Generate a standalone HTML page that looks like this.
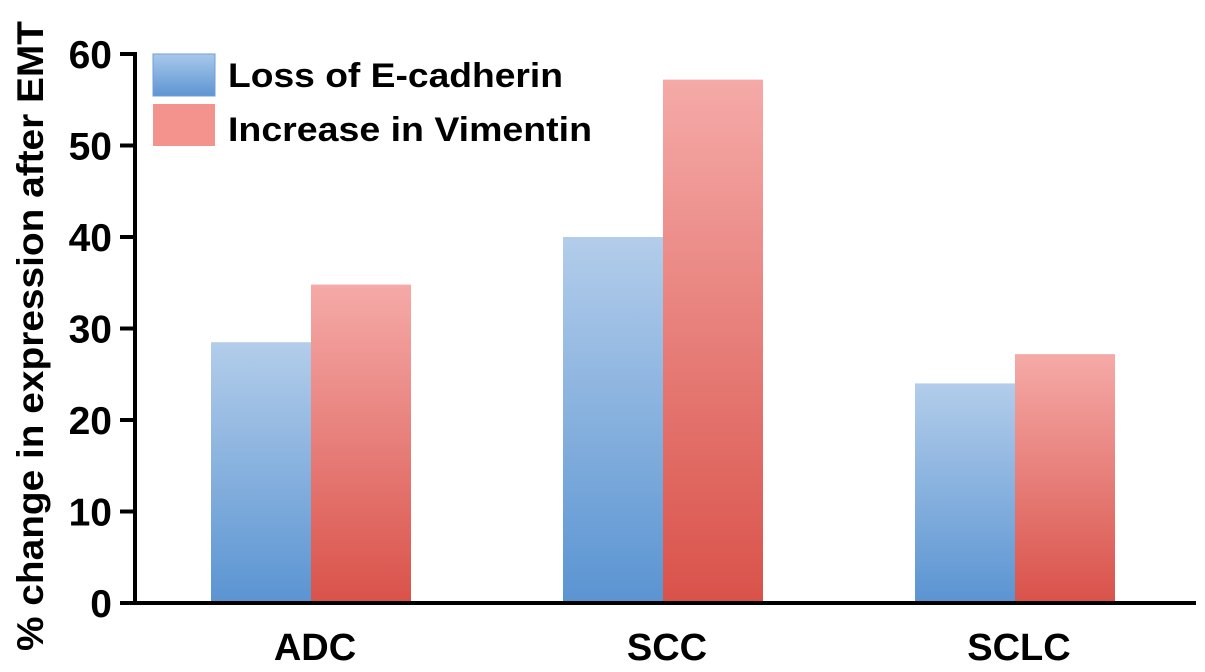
<!DOCTYPE html>
<html><head><meta charset="utf-8"><style>
html,body{margin:0;padding:0;background:#fff;}
svg{display:block;font-family:"Liberation Sans",Arial,sans-serif;font-weight:bold;}
</style></head><body>
<svg id="chart" width="1205" height="672" viewBox="0 0 1205 672">
<defs>
<linearGradient id="gb" x1="0" y1="0" x2="0" y2="1"><stop offset="0" stop-color="#b3cdea"/><stop offset="1" stop-color="#5a94d2"/></linearGradient>
<linearGradient id="gr" x1="0" y1="0" x2="0" y2="1"><stop offset="0" stop-color="#f5aaa8"/><stop offset="1" stop-color="#d9524a"/></linearGradient>
<linearGradient id="lb" x1="0" y1="0" x2="0" y2="1"><stop offset="0" stop-color="#a9c8ea"/><stop offset="1" stop-color="#5d95d3"/></linearGradient>
</defs>
<g id="bars"></g>
<g id="axes"></g>
<g>
<rect x="153" y="54" width="62" height="42" fill="url(#lb)" stroke="#6f9fd6"/>
<text x="228" y="87" font-size="34" textLength="335" lengthAdjust="spacingAndGlyphs" fill="#000">Loss of E-cadherin</text>
<rect x="153" y="104" width="62" height="42" fill="#f4938e"/>
<text x="228" y="141" font-size="34" textLength="364" lengthAdjust="spacingAndGlyphs" fill="#000">Increase in Vimentin</text>
</g>
<text transform="translate(43,336) rotate(-90)" text-anchor="middle" font-size="37" textLength="630" lengthAdjust="spacingAndGlyphs" fill="#000">% change in expression after EMT</text>
</svg>
<script>
const categories = ["ADC","SCC","SCLC"];
const ecadherin = [28.5, 40, 24];
const vimentin = [34.8, 57.2, 27.2];
const yTicks = [0,10,20,30,40,50,60];
const NS="http://www.w3.org/2000/svg";
const y0=603, yTop=54, yMax=60;
function yScale(v){return y0-(v/yMax)*(y0-yTop);}
const centers=[311,662,1015];
function xCenter(i){return centers[0]+i*((centers[2]-centers[0])/(categories.length-1));}
const bw=100;
const bars=document.getElementById('bars');
const axes=document.getElementById('axes');
function mk(tag,attrs,parent){const e=document.createElementNS(NS,tag);for(const k in attrs)e.setAttribute(k,attrs[k]);parent.appendChild(e);return e;}
categories.forEach((c,i)=>{
  const cx=xCenter(i);
  const b=mk('rect',{x:cx-bw,y:yScale(ecadherin[i]),width:bw,height:y0-yScale(ecadherin[i]),fill:'url(#gb)'},bars);
  
  
  const r=mk('rect',{x:cx,y:yScale(vimentin[i]),width:bw,height:y0-yScale(vimentin[i]),fill:'url(#gr)'},bars);
  
  
  const t=mk('text',{x:cx+4,y:660,'text-anchor':'middle','font-size':38,fill:'#000'},axes);
  t.textContent=c;
  
  
});
const ya=mk('line',{x1:135,y1:yTop,x2:135,y2:y0+2,stroke:'#000','stroke-width':4},axes);


const xa=mk('line',{x1:120,y1:y0,x2:1196,y2:y0,stroke:'#000','stroke-width':4},axes);


yTicks.forEach(v=>{
  const y=yScale(v);
  const tk=mk('line',{x1:120,y1:y,x2:137,y2:y,stroke:'#000','stroke-width':4},axes);
  
  
  const t=mk('text',{x:112,y:y+14,'text-anchor':'end','font-size':39,fill:'#000'},axes);
  t.textContent=v;
  
  
});
</script>
</body></html>
